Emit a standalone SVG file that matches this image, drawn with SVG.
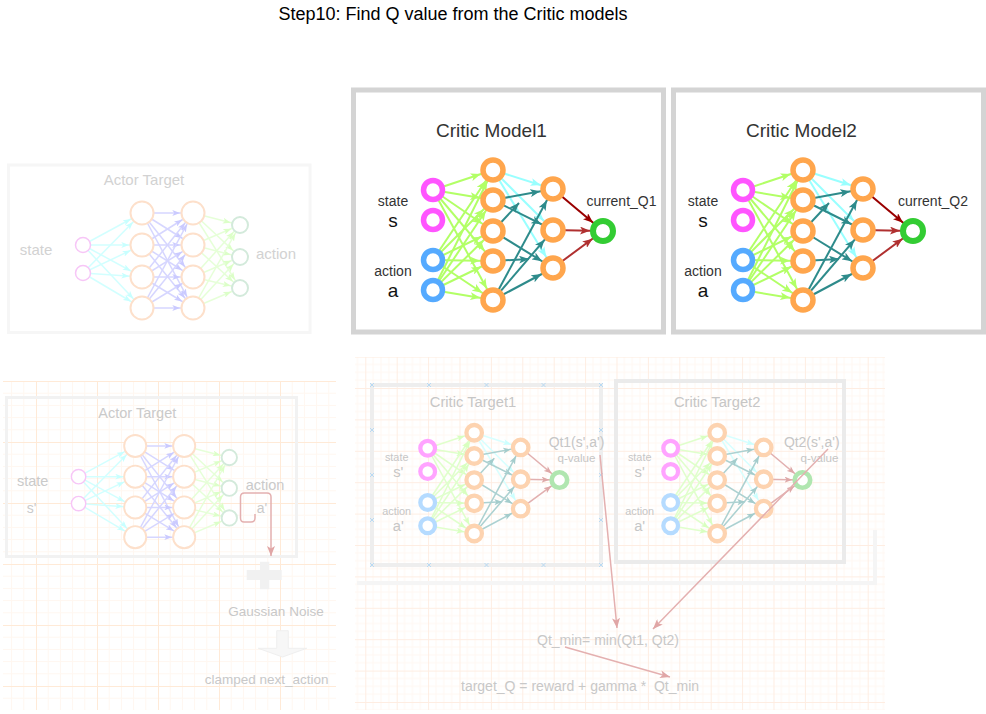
<svg xmlns="http://www.w3.org/2000/svg" width="986" height="714" viewBox="0 0 986 714">
<defs>
<style>
text{font-family:"Liberation Sans",Arial,Helvetica,sans-serif}
.ln{fill:none;stroke-width:2}
.lg{stroke:#b2ff66;marker-end:url(#m-lg)}
.cy{stroke:#99ffff;marker-end:url(#m-cy)}
.tl{stroke:#2e8b8b;marker-end:url(#m-tl)}
.tm{stroke:#2e8b8b;marker-end:url(#m-tm)}
.dr{stroke:#990000;marker-end:url(#m-dr)}
.rd{stroke:#b03030;marker-end:url(#m-rd)}
.n{fill:#fff;stroke-width:5.5}
.pk{stroke:#ff55ff}.bl{stroke:#55aaff}.or{stroke:#ffa64d}.gr{stroke:#33cc33;stroke-width:6}
.cbox{fill:#fff;stroke:#d4d4d4;stroke-width:5}
.ttl{font-size:19px;fill:#333;text-anchor:middle}
.lb{font-size:14px;fill:#333;text-anchor:middle}
.big{font-size:19px;fill:#111;text-anchor:middle}
.fd .lg{stroke:#e0ffcc;marker-end:url(#f-lg)}
.fd .cy{stroke:#d8ffff;marker-end:url(#f-cy)}
.fd .tl{stroke:#acd1d1;marker-end:url(#f-tl)}
.fd .tm{stroke:#acd1d1;marker-end:url(#f-tm)}
.fd .dr,.fd .rd{stroke:#e2b0b0;marker-end:url(#f-rd)}
.fd .pk{stroke:#ffa3ff}.fd .bl{stroke:#b5dbff}.fd .or{stroke:#fdd3b0}.fd .gr{stroke:#b0e6b0}
.fd .ttl,.fd .lb,.fd .big{fill:#c6c6c6}
.an{fill:#fff}
.apk{stroke:#f7c6f7;stroke-width:1.5}
.aor{stroke:#fde0cb;stroke-width:2}
.agr{stroke:#d3eadb;stroke-width:2}
.al{fill:none;stroke-width:1.5}
.acy{stroke:#d2ffff;marker-end:url(#a-cy)}
.alv{stroke:#d6d6ff;marker-end:url(#a-lv)}
.alg{stroke:#e6ffd8;marker-end:url(#a-lg)}
.ta{fill:#d2d2d2;text-anchor:middle}
.tf{fill:#c8c8c8;text-anchor:middle;font-size:14px}
.ra{fill:none;stroke:#e4b0b0;stroke-width:1.5;marker-end:url(#r-end)}
</style>
<marker id="m-lg" markerUnits="userSpaceOnUse" markerWidth="10" markerHeight="8" refX="23" refY="4" orient="auto"><path d="M0,0L10,4L0,8L2.5,4Z" fill="#b2ff66"/></marker>
<marker id="m-cy" markerUnits="userSpaceOnUse" markerWidth="10" markerHeight="8" refX="23" refY="4" orient="auto"><path d="M0,0L10,4L0,8L2.5,4Z" fill="#99ffff"/></marker>
<marker id="m-tl" markerUnits="userSpaceOnUse" markerWidth="10" markerHeight="8" refX="23" refY="4" orient="auto"><path d="M0,0L10,4L0,8L2.5,4Z" fill="#2e8b8b"/></marker>
<marker id="m-tm" markerUnits="userSpaceOnUse" markerWidth="10" markerHeight="8" refX="10" refY="4" orient="auto"><path d="M0,0L10,4L0,8L2.5,4Z" fill="#2e8b8b"/></marker>
<marker id="m-dr" markerUnits="userSpaceOnUse" markerWidth="10" markerHeight="8" refX="23" refY="4" orient="auto"><path d="M0,0L10,4L0,8L2.5,4Z" fill="#990000"/></marker>
<marker id="m-rd" markerUnits="userSpaceOnUse" markerWidth="10" markerHeight="8" refX="23" refY="4" orient="auto"><path d="M0,0L10,4L0,8L2.5,4Z" fill="#b03030"/></marker>
<marker id="f-lg" markerUnits="userSpaceOnUse" markerWidth="10" markerHeight="8" refX="23" refY="4" orient="auto"><path d="M0,0L10,4L0,8L2.5,4Z" fill="#d8ffc0"/></marker>
<marker id="f-cy" markerUnits="userSpaceOnUse" markerWidth="10" markerHeight="8" refX="23" refY="4" orient="auto"><path d="M0,0L10,4L0,8L2.5,4Z" fill="#ccffff"/></marker>
<marker id="f-tl" markerUnits="userSpaceOnUse" markerWidth="10" markerHeight="8" refX="23" refY="4" orient="auto"><path d="M0,0L10,4L0,8L2.5,4Z" fill="#a3cccc"/></marker>
<marker id="f-tm" markerUnits="userSpaceOnUse" markerWidth="10" markerHeight="8" refX="10" refY="4" orient="auto"><path d="M0,0L10,4L0,8L2.5,4Z" fill="#a3cccc"/></marker>
<marker id="f-rd" markerUnits="userSpaceOnUse" markerWidth="10" markerHeight="8" refX="23" refY="4" orient="auto"><path d="M0,0L10,4L0,8L2.5,4Z" fill="#dea8a8"/></marker>
<marker id="a-cy" markerUnits="userSpaceOnUse" markerWidth="8" markerHeight="6" refX="20.7" refY="3" orient="auto"><path d="M0,0L8,3L0,6L2,3Z" fill="#c8ffff"/></marker>
<marker id="a-lv" markerUnits="userSpaceOnUse" markerWidth="8" markerHeight="6" refX="20.7" refY="3" orient="auto"><path d="M0,0L8,3L0,6L2,3Z" fill="#cacaff"/></marker>
<marker id="a-lg" markerUnits="userSpaceOnUse" markerWidth="8" markerHeight="6" refX="17.5" refY="3" orient="auto"><path d="M0,0L8,3L0,6L2,3Z" fill="#dcffc8"/></marker>
<marker id="r-end" markerUnits="userSpaceOnUse" markerWidth="10" markerHeight="8" refX="10" refY="4" orient="auto"><path d="M0,0L10,4L0,8L2.5,4Z" fill="#e0a6a6"/></marker>
<pattern id="gA" x="36" y="381" width="61" height="61" patternUnits="userSpaceOnUse">
<path d="M12.2 0V61M24.4 0V61M36.6 0V61M48.8 0V61M0 12.2H61M0 24.4H61M0 36.6H61M0 48.8H61" stroke="#fff7f0" stroke-width="1" fill="none"/>
<path d="M0.5 0V61M0 0.5H61" stroke="#ffead7" stroke-width="1" fill="none"/>
</pattern>
<pattern id="gB" x="365.3" y="356.6" width="31.4" height="31.4" patternUnits="userSpaceOnUse">
<path d="M7.85 0V31.4M15.7 0V31.4M23.55 0V31.4M0 7.85H31.4M0 15.7H31.4M0 23.55H31.4" stroke="#fff7f2" stroke-width="1" fill="none"/>
<path d="M0.5 0V31.4M0 0.5H31.4" stroke="#feede2" stroke-width="1" fill="none"/>
</pattern>
</defs>

<rect width="986" height="714" fill="#fff"/>

<!-- faded background grids -->
<rect x="3" y="381" width="333" height="329" fill="url(#gA)"/>
<rect x="355" y="357" width="530" height="353" fill="url(#gB)"/>

<!-- Top-left Actor Target (faded) -->
<g id="actor-target-top">
<rect x="8.5" y="165" width="301.5" height="167.5" fill="none" stroke="#f6f6f6" stroke-width="3"/>
<text class="ta" x="144" y="185" font-size="15">Actor Target</text>
<text class="ta" x="36" y="255" font-size="15">state</text>
<text class="ta" x="276" y="259" font-size="15">action</text>
<g id="at1-net">
<g id="at1-edges">
<line class="al acy" x1="83" y1="245" x2="142" y2="213"/><line class="al acy" x1="83" y1="245" x2="142" y2="245"/><line class="al acy" x1="83" y1="245" x2="142" y2="277"/><line class="al acy" x1="83" y1="245" x2="142" y2="308"/>
<line class="al acy" x1="83" y1="273" x2="142" y2="213"/><line class="al acy" x1="83" y1="273" x2="142" y2="245"/><line class="al acy" x1="83" y1="273" x2="142" y2="277"/><line class="al acy" x1="83" y1="273" x2="142" y2="308"/>
<line class="al alv" x1="142" y1="213" x2="193" y2="213"/><line class="al alv" x1="142" y1="213" x2="193" y2="245"/><line class="al alv" x1="142" y1="213" x2="193" y2="277"/><line class="al alv" x1="142" y1="213" x2="193" y2="308"/>
<line class="al alv" x1="142" y1="245" x2="193" y2="213"/><line class="al alv" x1="142" y1="245" x2="193" y2="245"/><line class="al alv" x1="142" y1="245" x2="193" y2="277"/><line class="al alv" x1="142" y1="245" x2="193" y2="308"/>
<line class="al alv" x1="142" y1="277" x2="193" y2="213"/><line class="al alv" x1="142" y1="277" x2="193" y2="245"/><line class="al alv" x1="142" y1="277" x2="193" y2="277"/><line class="al alv" x1="142" y1="277" x2="193" y2="308"/>
<line class="al alv" x1="142" y1="308" x2="193" y2="213"/><line class="al alv" x1="142" y1="308" x2="193" y2="245"/><line class="al alv" x1="142" y1="308" x2="193" y2="277"/><line class="al alv" x1="142" y1="308" x2="193" y2="308"/>
<line class="al alg" x1="193" y1="213" x2="240" y2="225"/><line class="al alg" x1="193" y1="213" x2="240" y2="257"/><line class="al alg" x1="193" y1="213" x2="240" y2="288"/>
<line class="al alg" x1="193" y1="245" x2="240" y2="225"/><line class="al alg" x1="193" y1="245" x2="240" y2="257"/><line class="al alg" x1="193" y1="245" x2="240" y2="288"/>
<line class="al alg" x1="193" y1="277" x2="240" y2="225"/><line class="al alg" x1="193" y1="277" x2="240" y2="257"/><line class="al alg" x1="193" y1="277" x2="240" y2="288"/>
<line class="al alg" x1="193" y1="308" x2="240" y2="225"/><line class="al alg" x1="193" y1="308" x2="240" y2="257"/><line class="al alg" x1="193" y1="308" x2="240" y2="288"/>
</g>
<circle class="an apk" cx="83" cy="245" r="7.5"/><circle class="an apk" cx="83" cy="273" r="7.5"/>
<circle class="an aor" cx="142" cy="213" r="11.5"/><circle class="an aor" cx="142" cy="245" r="11.5"/><circle class="an aor" cx="142" cy="277" r="11.5"/><circle class="an aor" cx="142" cy="308" r="11.5"/>
<circle class="an aor" cx="193" cy="213" r="11.5"/><circle class="an aor" cx="193" cy="245" r="11.5"/><circle class="an aor" cx="193" cy="277" r="11.5"/><circle class="an aor" cx="193" cy="308" r="11.5"/>
<circle class="an agr" cx="240" cy="225" r="8"/><circle class="an agr" cx="240" cy="257" r="8"/><circle class="an agr" cx="240" cy="288" r="8"/>
</g>
</g>

<!-- Bottom-left Actor Target (faded) -->
<g id="actor-target-bottom">
<rect x="6.5" y="397.5" width="290" height="159" fill="none" stroke="#f2f2f2" stroke-width="3"/>
<text class="ta" x="137.3" y="418" font-size="14.5" style="fill:#cacaca">Actor Target</text>
<text class="ta" x="32.7" y="486" font-size="14.5" style="fill:#cacaca">state</text>
<text class="ta" x="31.7" y="513" font-size="14" style="fill:#cacaca">s'</text>
<text class="ta" x="265" y="489.5" font-size="14.5" style="fill:#cacaca">action</text>
<text class="ta" x="262" y="513" font-size="14" style="fill:#cacaca">a'</text>
<g id="at2-net" transform="translate(-1.1,241.5) scale(0.96)">
<line class="al acy" x1="83" y1="245" x2="142" y2="213"/><line class="al acy" x1="83" y1="245" x2="142" y2="245"/><line class="al acy" x1="83" y1="245" x2="142" y2="277"/><line class="al acy" x1="83" y1="245" x2="142" y2="308"/>
<line class="al acy" x1="83" y1="273" x2="142" y2="213"/><line class="al acy" x1="83" y1="273" x2="142" y2="245"/><line class="al acy" x1="83" y1="273" x2="142" y2="277"/><line class="al acy" x1="83" y1="273" x2="142" y2="308"/>
<line class="al alv" x1="142" y1="213" x2="193" y2="213"/><line class="al alv" x1="142" y1="213" x2="193" y2="245"/><line class="al alv" x1="142" y1="213" x2="193" y2="277"/><line class="al alv" x1="142" y1="213" x2="193" y2="308"/>
<line class="al alv" x1="142" y1="245" x2="193" y2="213"/><line class="al alv" x1="142" y1="245" x2="193" y2="245"/><line class="al alv" x1="142" y1="245" x2="193" y2="277"/><line class="al alv" x1="142" y1="245" x2="193" y2="308"/>
<line class="al alv" x1="142" y1="277" x2="193" y2="213"/><line class="al alv" x1="142" y1="277" x2="193" y2="245"/><line class="al alv" x1="142" y1="277" x2="193" y2="277"/><line class="al alv" x1="142" y1="277" x2="193" y2="308"/>
<line class="al alv" x1="142" y1="308" x2="193" y2="213"/><line class="al alv" x1="142" y1="308" x2="193" y2="245"/><line class="al alv" x1="142" y1="308" x2="193" y2="277"/><line class="al alv" x1="142" y1="308" x2="193" y2="308"/>
<line class="al alg" x1="193" y1="213" x2="240" y2="225"/><line class="al alg" x1="193" y1="213" x2="240" y2="257"/><line class="al alg" x1="193" y1="213" x2="240" y2="288"/>
<line class="al alg" x1="193" y1="245" x2="240" y2="225"/><line class="al alg" x1="193" y1="245" x2="240" y2="257"/><line class="al alg" x1="193" y1="245" x2="240" y2="288"/>
<line class="al alg" x1="193" y1="277" x2="240" y2="225"/><line class="al alg" x1="193" y1="277" x2="240" y2="257"/><line class="al alg" x1="193" y1="277" x2="240" y2="288"/>
<line class="al alg" x1="193" y1="308" x2="240" y2="225"/><line class="al alg" x1="193" y1="308" x2="240" y2="257"/><line class="al alg" x1="193" y1="308" x2="240" y2="288"/>
<circle class="an apk" cx="83" cy="245" r="7.5"/><circle class="an apk" cx="83" cy="273" r="7.5"/>
<circle class="an aor" cx="142" cy="213" r="11.5"/><circle class="an aor" cx="142" cy="245" r="11.5"/><circle class="an aor" cx="142" cy="277" r="11.5"/><circle class="an aor" cx="142" cy="308" r="11.5"/>
<circle class="an aor" cx="193" cy="213" r="11.5"/><circle class="an aor" cx="193" cy="245" r="11.5"/><circle class="an aor" cx="193" cy="277" r="11.5"/><circle class="an aor" cx="193" cy="308" r="11.5"/>
<circle class="an agr" cx="240" cy="225" r="8"/><circle class="an agr" cx="240" cy="257" r="8"/><circle class="an agr" cx="240" cy="288" r="8"/>
</g>
<path class="ra" d="M255,514V518Q255,522 251,522H244Q240.5,522 240.5,518V497Q240.5,493 244.5,493H267Q271,493 271,497V556"/>
<path d="M246.7,570H260V561.7H269.3V570H281.7V580H269.3V589.3H260V580H246.7Z" fill="#f1f1f1"/>
<text class="tf" x="276" y="615.5" style="font-size:13.5px">Gaussian Noise</text>
<path d="M276.7,630.7H288.3V648.3H306.7L282.5,657L258.3,648.3H276.7Z" fill="#f7f7f7" stroke="#efefef" stroke-width="1"/>
<text class="tf" x="266.7" y="684" style="font-size:13.5px">clamped next_action</text>
</g>

<!-- Bottom-right critic targets (faded) -->
<g id="critic-targets">
<path d="M357,583H875V530" fill="none" stroke="#f5f5f5" stroke-width="4"/>
<rect x="372" y="385" width="229" height="180" fill="none" stroke="#eeeeee" stroke-width="4"/>
<path d="M370 383l4 4M374 383l-4 4M427 383l4 4M431 383l-4 4M484.5 383l4 4M488.5 383l-4 4M541.5 383l4 4M545.5 383l-4 4M599 383l4 4M603 383l-4 4M370 563l4 4M374 563l-4 4M427 563l4 4M431 563l-4 4M484.5 563l4 4M488.5 563l-4 4M541.5 563l4 4M545.5 563l-4 4M599 563l4 4M603 563l-4 4M370 428l4 4M374 428l-4 4M370 473l4 4M374 473l-4 4M370 518l4 4M374 518l-4 4M599 428l4 4M603 428l-4 4M599 473l4 4M603 473l-4 4M599 518l4 4M603 518l-4 4" stroke="#b9daf3" stroke-width="1" fill="none"/>
<rect x="616" y="381" width="228" height="181" fill="none" stroke="#ebebeb" stroke-width="4"/>

<g id="ct1" class="fd" transform="translate(92.1,301) scale(0.775)">
<text class="ttl" x="491.5" y="137">Critic Target1</text>
<g id="ct1-edges">
<line class="ln lg" x1="433" y1="190" x2="493" y2="170"/><line class="ln lg" x1="433" y1="190" x2="493" y2="200"/><line class="ln lg" x1="433" y1="190" x2="493" y2="231"/><line class="ln lg" x1="433" y1="190" x2="493" y2="261"/><line class="ln lg" x1="433" y1="190" x2="493" y2="300"/>
<line class="ln lg" x1="433" y1="260" x2="493" y2="170"/><line class="ln lg" x1="433" y1="260" x2="493" y2="200"/><line class="ln lg" x1="433" y1="260" x2="493" y2="231"/><line class="ln lg" x1="433" y1="260" x2="493" y2="261"/><line class="ln lg" x1="433" y1="260" x2="493" y2="300"/>
<line class="ln lg" x1="433" y1="290" x2="493" y2="170"/><line class="ln lg" x1="433" y1="290" x2="493" y2="200"/><line class="ln lg" x1="433" y1="290" x2="493" y2="231"/><line class="ln lg" x1="433" y1="290" x2="493" y2="261"/><line class="ln lg" x1="433" y1="290" x2="493" y2="300"/>
<line class="ln cy" x1="493" y1="170" x2="553" y2="189"/><line class="ln cy" x1="493" y1="170" x2="553" y2="230"/><line class="ln cy" x1="493" y1="170" x2="553" y2="268"/>
<line class="ln tl" x1="493" y1="200" x2="553" y2="189"/><line class="ln tl" x1="493" y1="200" x2="553" y2="230"/><line class="ln tl" x1="493" y1="231" x2="553" y2="268"/>
<line class="ln tl" x1="493" y1="300" x2="553" y2="189"/><line class="ln tl" x1="493" y1="300" x2="553" y2="230"/><line class="ln tl" x1="493" y1="300" x2="553" y2="268"/>
<line class="ln tm" x1="493" y1="231" x2="519" y2="203"/><line class="ln tm" x1="493" y1="261" x2="529" y2="259"/>
<line class="ln dr" x1="553" y1="189" x2="603" y2="231"/><line class="ln rd" x1="553" y1="230" x2="603" y2="231"/><line class="ln rd" x1="553" y1="268" x2="603" y2="231"/>
</g>
<circle class="n pk" cx="433" cy="190" r="9.5"/><circle class="n pk" cx="433" cy="220" r="9.5"/>
<circle class="n bl" cx="433" cy="260" r="9.5"/><circle class="n bl" cx="433" cy="290" r="9.5"/>
<circle class="n or" cx="493" cy="170" r="10"/><circle class="n or" cx="493" cy="200" r="10"/><circle class="n or" cx="493" cy="231" r="10"/><circle class="n or" cx="493" cy="261" r="10"/><circle class="n or" cx="493" cy="300" r="10"/>
<circle class="n or" cx="553" cy="189" r="10"/><circle class="n or" cx="553" cy="230" r="10"/><circle class="n or" cx="553" cy="268" r="10"/>
<circle class="n gr" cx="603" cy="231" r="10"/>
<text class="lb" x="393" y="206">state</text>
<text class="big" x="395" y="227">s'</text>
<text class="lb" x="393" y="276">action</text>
<text class="big" x="395" y="297">a'</text>
<text class="lb" x="625" y="188" style="font-size:18px">Qt1(s',a')</text>
<text class="lb" x="625" y="208" style="font-size:15px">q-value</text>
</g>

<g id="ct2" class="fd" transform="translate(335.1,301) scale(0.775)">
<text class="ttl" x="493" y="137">Critic Target2</text>
<g id="ct2-edges">
<line class="ln lg" x1="433" y1="190" x2="493" y2="170"/><line class="ln lg" x1="433" y1="190" x2="493" y2="200"/><line class="ln lg" x1="433" y1="190" x2="493" y2="231"/><line class="ln lg" x1="433" y1="190" x2="493" y2="261"/><line class="ln lg" x1="433" y1="190" x2="493" y2="300"/>
<line class="ln lg" x1="433" y1="260" x2="493" y2="170"/><line class="ln lg" x1="433" y1="260" x2="493" y2="200"/><line class="ln lg" x1="433" y1="260" x2="493" y2="231"/><line class="ln lg" x1="433" y1="260" x2="493" y2="261"/><line class="ln lg" x1="433" y1="260" x2="493" y2="300"/>
<line class="ln lg" x1="433" y1="290" x2="493" y2="170"/><line class="ln lg" x1="433" y1="290" x2="493" y2="200"/><line class="ln lg" x1="433" y1="290" x2="493" y2="231"/><line class="ln lg" x1="433" y1="290" x2="493" y2="261"/><line class="ln lg" x1="433" y1="290" x2="493" y2="300"/>
<line class="ln cy" x1="493" y1="170" x2="553" y2="189"/><line class="ln cy" x1="493" y1="170" x2="553" y2="230"/><line class="ln cy" x1="493" y1="170" x2="553" y2="268"/>
<line class="ln tl" x1="493" y1="200" x2="553" y2="189"/><line class="ln tl" x1="493" y1="200" x2="553" y2="230"/><line class="ln tl" x1="493" y1="231" x2="553" y2="268"/>
<line class="ln tl" x1="493" y1="300" x2="553" y2="189"/><line class="ln tl" x1="493" y1="300" x2="553" y2="230"/><line class="ln tl" x1="493" y1="300" x2="553" y2="268"/>
<line class="ln tm" x1="493" y1="231" x2="519" y2="203"/><line class="ln tm" x1="493" y1="261" x2="529" y2="259"/>
<line class="ln dr" x1="553" y1="189" x2="603" y2="231"/><line class="ln rd" x1="553" y1="230" x2="603" y2="231"/><line class="ln rd" x1="553" y1="268" x2="603" y2="231"/>
</g>
<circle class="n pk" cx="433" cy="190" r="9.5"/><circle class="n pk" cx="433" cy="220" r="9.5"/>
<circle class="n bl" cx="433" cy="260" r="9.5"/><circle class="n bl" cx="433" cy="290" r="9.5"/>
<circle class="n or" cx="493" cy="170" r="10"/><circle class="n or" cx="493" cy="200" r="10"/><circle class="n or" cx="493" cy="231" r="10"/><circle class="n or" cx="493" cy="261" r="10"/><circle class="n or" cx="493" cy="300" r="10"/>
<circle class="n or" cx="553" cy="189" r="10"/><circle class="n or" cx="553" cy="230" r="10"/><circle class="n or" cx="553" cy="268" r="10"/>
<circle class="n gr" cx="603" cy="231" r="10"/>
<text class="lb" x="393" y="206">state</text>
<text class="big" x="393" y="227">s'</text>
<text class="lb" x="393" y="276">action</text>
<text class="big" x="393" y="297">a'</text>
<text class="lb" x="615" y="188" style="font-size:18px">Qt2(s',a')</text>
<text class="lb" x="625" y="208" style="font-size:15px">q-value</text>
</g>

<g id="qmin-connectors">
<line class="ra" x1="600" y1="455" x2="617" y2="628"/>
<line class="ra" x1="828" y1="449" x2="653" y2="629"/>
<line class="ra" x1="565" y1="647" x2="670" y2="677"/>
</g>
<text class="tf" x="608" y="645">Qt_min= min(Qt1, Qt2)</text>
<text class="tf" x="461" y="691" style="text-anchor:start" xml:space="preserve">target_Q = reward + gamma *  Qt_min</text>
</g>

<!-- Critic Model 1 -->
<g id="critic-model-1">
<rect class="cbox" x="353.5" y="90" width="310" height="242"/>
<text class="ttl" x="491.5" y="137">Critic Model1</text>
<g id="cm1-edges">
<line class="ln lg" x1="433" y1="190" x2="493" y2="170"/><line class="ln lg" x1="433" y1="190" x2="493" y2="200"/><line class="ln lg" x1="433" y1="190" x2="493" y2="231"/><line class="ln lg" x1="433" y1="190" x2="493" y2="261"/><line class="ln lg" x1="433" y1="190" x2="493" y2="300"/>
<line class="ln lg" x1="433" y1="260" x2="493" y2="170"/><line class="ln lg" x1="433" y1="260" x2="493" y2="200"/><line class="ln lg" x1="433" y1="260" x2="493" y2="231"/><line class="ln lg" x1="433" y1="260" x2="493" y2="261"/><line class="ln lg" x1="433" y1="260" x2="493" y2="300"/>
<line class="ln lg" x1="433" y1="290" x2="493" y2="170"/><line class="ln lg" x1="433" y1="290" x2="493" y2="200"/><line class="ln lg" x1="433" y1="290" x2="493" y2="231"/><line class="ln lg" x1="433" y1="290" x2="493" y2="261"/><line class="ln lg" x1="433" y1="290" x2="493" y2="300"/>
<line class="ln cy" x1="493" y1="170" x2="553" y2="189"/><line class="ln cy" x1="493" y1="170" x2="553" y2="230"/><line class="ln cy" x1="493" y1="170" x2="553" y2="268"/>
<line class="ln tl" x1="493" y1="200" x2="553" y2="189"/><line class="ln tl" x1="493" y1="200" x2="553" y2="230"/><line class="ln tl" x1="493" y1="231" x2="553" y2="268"/>
<line class="ln tl" x1="493" y1="300" x2="553" y2="189"/><line class="ln tl" x1="493" y1="300" x2="553" y2="230"/><line class="ln tl" x1="493" y1="300" x2="553" y2="268"/>
<line class="ln tm" x1="493" y1="231" x2="519" y2="203"/><line class="ln tm" x1="493" y1="261" x2="529" y2="259"/>
<line class="ln dr" x1="553" y1="189" x2="603" y2="231"/><line class="ln rd" x1="553" y1="230" x2="603" y2="231"/><line class="ln rd" x1="553" y1="268" x2="603" y2="231"/>
</g>
<g id="cm1-s1"><circle class="n pk" cx="433" cy="190" r="9.5"/></g>
<g id="cm1-s2"><circle class="n pk" cx="433" cy="220" r="9.5"/></g>
<g id="cm1-a1"><circle class="n bl" cx="433" cy="260" r="9.5"/></g>
<g id="cm1-a2"><circle class="n bl" cx="433" cy="290" r="9.5"/></g>
<g id="cm1-h1"><circle class="n or" cx="493" cy="170" r="10"/></g>
<g id="cm1-h2"><circle class="n or" cx="493" cy="200" r="10"/></g>
<g id="cm1-h3"><circle class="n or" cx="493" cy="231" r="10"/></g>
<g id="cm1-h4"><circle class="n or" cx="493" cy="261" r="10"/></g>
<g id="cm1-h5"><circle class="n or" cx="493" cy="300" r="10"/></g>
<g id="cm1-k1"><circle class="n or" cx="553" cy="189" r="10"/></g>
<g id="cm1-k2"><circle class="n or" cx="553" cy="230" r="10"/></g>
<g id="cm1-k3"><circle class="n or" cx="553" cy="268" r="10"/></g>
<g id="cm1-out"><circle class="n gr" cx="603" cy="231" r="10"/></g>
<text class="lb" x="393" y="206">state</text>
<text class="big" x="393" y="227">s</text>
<text class="lb" x="393" y="276">action</text>
<text class="big" x="393" y="297">a</text>
<text class="lb" x="621.5" y="206">current_Q1</text>
</g>

<!-- Critic Model 2 -->
<g id="critic-model-2">
<rect class="cbox" x="673.5" y="90" width="310" height="242"/>
<g transform="translate(310,0)">
<text class="ttl" x="491.5" y="137">Critic Model2</text>
<g id="cm2-edges">
<line class="ln lg" x1="433" y1="190" x2="493" y2="170"/><line class="ln lg" x1="433" y1="190" x2="493" y2="200"/><line class="ln lg" x1="433" y1="190" x2="493" y2="231"/><line class="ln lg" x1="433" y1="190" x2="493" y2="261"/><line class="ln lg" x1="433" y1="190" x2="493" y2="300"/>
<line class="ln lg" x1="433" y1="260" x2="493" y2="170"/><line class="ln lg" x1="433" y1="260" x2="493" y2="200"/><line class="ln lg" x1="433" y1="260" x2="493" y2="231"/><line class="ln lg" x1="433" y1="260" x2="493" y2="261"/><line class="ln lg" x1="433" y1="260" x2="493" y2="300"/>
<line class="ln lg" x1="433" y1="290" x2="493" y2="170"/><line class="ln lg" x1="433" y1="290" x2="493" y2="200"/><line class="ln lg" x1="433" y1="290" x2="493" y2="231"/><line class="ln lg" x1="433" y1="290" x2="493" y2="261"/><line class="ln lg" x1="433" y1="290" x2="493" y2="300"/>
<line class="ln cy" x1="493" y1="170" x2="553" y2="189"/><line class="ln cy" x1="493" y1="170" x2="553" y2="230"/><line class="ln cy" x1="493" y1="170" x2="553" y2="268"/>
<line class="ln tl" x1="493" y1="200" x2="553" y2="189"/><line class="ln tl" x1="493" y1="200" x2="553" y2="230"/><line class="ln tl" x1="493" y1="231" x2="553" y2="268"/>
<line class="ln tl" x1="493" y1="300" x2="553" y2="189"/><line class="ln tl" x1="493" y1="300" x2="553" y2="230"/><line class="ln tl" x1="493" y1="300" x2="553" y2="268"/>
<line class="ln tm" x1="493" y1="231" x2="519" y2="203"/><line class="ln tm" x1="493" y1="261" x2="529" y2="259"/>
<line class="ln dr" x1="553" y1="189" x2="603" y2="231"/><line class="ln rd" x1="553" y1="230" x2="603" y2="231"/><line class="ln rd" x1="553" y1="268" x2="603" y2="231"/>
</g>
<g id="cm2-s1"><circle class="n pk" cx="433" cy="190" r="9.5"/></g>
<g id="cm2-s2"><circle class="n pk" cx="433" cy="220" r="9.5"/></g>
<g id="cm2-a1"><circle class="n bl" cx="433" cy="260" r="9.5"/></g>
<g id="cm2-a2"><circle class="n bl" cx="433" cy="290" r="9.5"/></g>
<g id="cm2-h1"><circle class="n or" cx="493" cy="170" r="10"/></g>
<g id="cm2-h2"><circle class="n or" cx="493" cy="200" r="10"/></g>
<g id="cm2-h3"><circle class="n or" cx="493" cy="231" r="10"/></g>
<g id="cm2-h4"><circle class="n or" cx="493" cy="261" r="10"/></g>
<g id="cm2-h5"><circle class="n or" cx="493" cy="300" r="10"/></g>
<g id="cm2-k1"><circle class="n or" cx="553" cy="189" r="10"/></g>
<g id="cm2-k2"><circle class="n or" cx="553" cy="230" r="10"/></g>
<g id="cm2-k3"><circle class="n or" cx="553" cy="268" r="10"/></g>
<g id="cm2-out"><circle class="n gr" cx="603" cy="231" r="10"/></g>
<text class="lb" x="393" y="206">state</text>
<text class="big" x="393" y="227">s</text>
<text class="lb" x="393" y="276">action</text>
<text class="big" x="393" y="297">a</text>
<text class="lb" x="623" y="206">current_Q2</text>
</g>
</g>

<text x="453" y="20" font-size="18" fill="#000" text-anchor="middle">Step10: Find Q value from the Critic models</text>
</svg>
